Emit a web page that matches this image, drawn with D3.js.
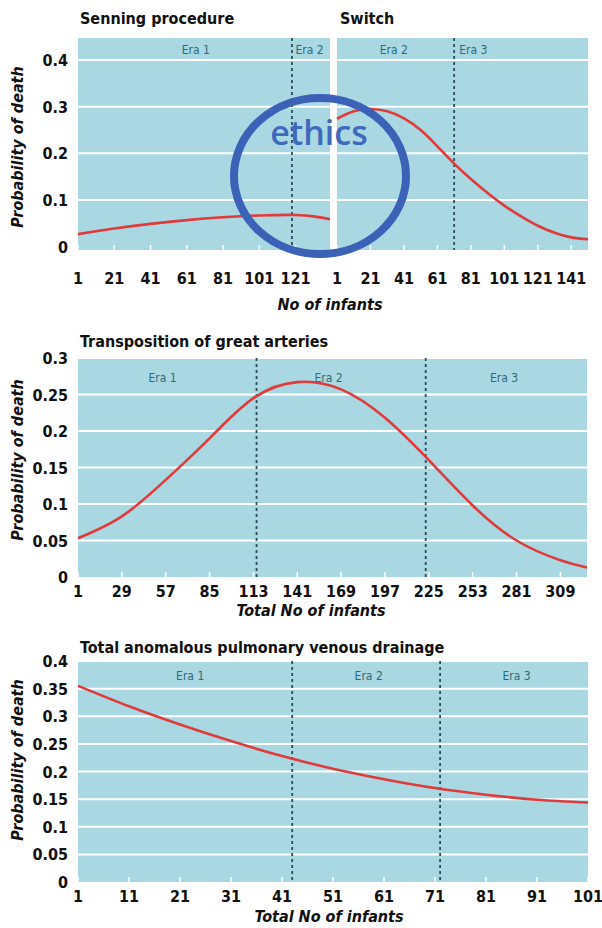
<!DOCTYPE html>
<html>
<head>
<meta charset="utf-8">
<script src="https://cdn.jsdelivr.net/npm/d3@7"></script>
<style>
  body { margin: 0; background: #fff; }
  svg text { font-family: "Liberation Sans Narrow", "DejaVu Sans Condensed", "Liberation Sans", sans-serif; }
</style>
</head>
<body>
<script>
// ---- data ----
const senningX = [1, 21, 41, 61, 81, 101, 121, 131, 140];
const senningP = [0.027, 0.039, 0.049, 0.057, 0.063, 0.067, 0.068, 0.065, 0.059];
const senningTicks = [1, 21, 41, 61, 81, 101, 121];
const senningEras = [119];
const senningEraLabels = ["Era 1", "Era 2"];

const switchX = [1, 11, 21, 31, 41, 51, 61, 71, 81, 91, 101, 111, 121, 131, 141, 151];
const switchP = [0.274, 0.29, 0.295, 0.29, 0.275, 0.25, 0.215, 0.178, 0.145, 0.115, 0.088, 0.065, 0.045, 0.03, 0.02, 0.016];
const switchTicks = [1, 21, 41, 61, 81, 101, 121, 141];
const switchEras = [71];
const switchEraLabels = ["Era 2", "Era 3"];

const tgaX = [1, 29, 57, 85, 113, 141, 169, 197, 225, 253, 281, 309, 326];
const tgaP = [0.053, 0.083, 0.133, 0.19, 0.245, 0.267, 0.257, 0.218, 0.16, 0.098, 0.05, 0.023, 0.013];
const tgaTicks = [1, 29, 57, 85, 113, 141, 169, 197, 225, 253, 281, 309];
const tgaEras = [115, 223];
const tgaEraLabels = ["Era 1", "Era 2", "Era 3"];
const tgaYTicks = [0, 0.05, 0.1, 0.15, 0.2, 0.25, 0.3];

const tapvdX = [1, 11, 21, 31, 41, 51, 61, 71, 81, 91, 101];
const tapvdP = [0.355, 0.318, 0.285, 0.255, 0.228, 0.205, 0.186, 0.17, 0.158, 0.149, 0.144];
const tapvdTicks = [1, 11, 21, 31, 41, 51, 61, 71, 81, 91, 101];
const tapvdEras = [43, 72];
const tapvdEraLabels = ["Era 1", "Era 2", "Era 3"];
const tapvdYTicks = [0, 0.05, 0.1, 0.15, 0.2, 0.25, 0.3, 0.35, 0.4];

const topYTicks = [0, 0.1, 0.2, 0.3, 0.4];

const bg = "#a9d8e2";
const red = "#e03a3a";
const dark = "#2c4d5a";

const svg = d3.select("body").append("svg")
    .attr("width", 602)
    .attr("height", 928);

// draw one plot area (background, grid, eras, curve, x ticks)
function drawPlot(o) {
    const x = d3.scaleLinear().domain(o.xDomain).range([o.left, o.right]);
    const y = o.y;
    const g = svg.append("g");

    g.append("rect")
        .attr("x", o.left).attr("y", o.top)
        .attr("width", o.right - o.left).attr("height", o.bottom - o.top)
        .attr("fill", bg);

    // white gridlines
    g.selectAll("line.grid")
        .data(o.yTicks.filter(d => d > 0))
        .enter().append("line")
        .attr("class", "grid")
        .attr("x1", o.left).attr("x2", o.right)
        .attr("y1", d => y(d)).attr("y2", d => y(d))
        .attr("stroke", "#fff").attr("stroke-width", 2);

    // little white ticks at the bottom
    g.selectAll("line.tk")
        .data(o.xTicks)
        .enter().append("line")
        .attr("class", "tk")
        .attr("x1", d => x(d)).attr("x2", d => x(d))
        .attr("y1", o.bottom).attr("y2", o.bottom - 5)
        .attr("stroke", "#fff").attr("stroke-width", 1.5);

    // era dividers
    g.selectAll("line.era")
        .data(o.eras)
        .enter().append("line")
        .attr("class", "era")
        .attr("x1", d => x(d)).attr("x2", d => x(d))
        .attr("y1", o.top).attr("y2", o.bottom)
        .attr("stroke", dark).attr("stroke-width", 1.8)
        .attr("stroke-dasharray", "3,3");

    // era labels
    g.selectAll("text.eraLbl")
        .data(o.eraLabels)
        .enter().append("text")
        .attr("class", "eraLbl")
        .attr("x", (d, i) => x(o.eraPos[i]))
        .attr("y", o.eraY)
        .attr("text-anchor", (d, i) => o.eraAnchor ? o.eraAnchor[i] : "middle")
        .attr("font-size", 12)
        .attr("fill", "#2d6b79")
        .text(d => d);

    // the curve
    const line = d3.line()
        .x(d => x(d[0]))
        .y(d => y(d[1]))
        .curve(d3.curveNatural);
    g.append("path")
        .datum(d3.zip(o.xs, o.ps))
        .attr("d", line)
        .attr("fill", "none")
        .attr("stroke", red)
        .attr("stroke-width", 2.6);

    // x tick labels
    g.selectAll("text.xl")
        .data(o.xTicks)
        .enter().append("text")
        .attr("class", "xl")
        .attr("x", d => x(d))
        .attr("y", o.xLabelY)
        .attr("text-anchor", "middle")
        .attr("font-size", 16)
        .attr("font-weight", "bold")
        .attr("fill", "#111")
        .text(d => d);
}

function drawYAxis(y, ticks, fmt, centre) {
    svg.append("g").selectAll("text")
        .data(ticks)
        .enter().append("text")
        .attr("x", 68)
        .attr("y", d => y(d) + 6)
        .attr("text-anchor", "end")
        .attr("font-size", 16)
        .attr("font-weight", "bold")
        .attr("fill", "#111")
        .text(d => fmt(d));

    svg.append("text")
        .attr("transform", "translate(23," + centre + ") rotate(-90)")
        .attr("text-anchor", "middle")
        .attr("font-size", 16)
        .attr("font-weight", "bold")
        .attr("font-style", "italic")
        .attr("fill", "#111")
        .text("Probability of death");
}

function title(txt, x, y) {
    svg.append("text")
        .attr("x", x).attr("y", y)
        .attr("font-size", 16)
        .attr("font-weight", "bold")
        .attr("fill", "#111")
        .text(txt);
}

function xTitle(txt, x, y) {
    svg.append("text")
        .attr("x", x).attr("y", y)
        .attr("text-anchor", "middle")
        .attr("font-size", 16)
        .attr("font-weight", "bold")
        .attr("font-style", "italic")
        .attr("fill", "#111")
        .text(txt);
}

const fmt = d => d === 0 ? "0" : String(d);

// ---- top panel ----
const yTop = d3.scaleLinear().domain([-0.007, 0.447]).range([250, 38]);
drawPlot({
    xDomain: [1, 140], left: 78, right: 330, top: 38, bottom: 250, y: yTop,
    yTicks: topYTicks, xTicks: senningTicks, eras: senningEras,
    eraLabels: senningEraLabels, eraPos: [66, 121], eraAnchor: ["middle", "start"], eraY: 54,
    xs: senningX, ps: senningP, xLabelY: 284
});
drawPlot({
    xDomain: [1, 151], left: 337, right: 588, top: 38, bottom: 250, y: yTop,
    yTicks: topYTicks, xTicks: switchTicks, eras: switchEras,
    eraLabels: switchEraLabels, eraPos: [35, 74], eraAnchor: ["middle", "start"], eraY: 54,
    xs: switchX, ps: switchP, xLabelY: 284
});
drawYAxis(yTop, topYTicks, fmt, 147);
title("Senning procedure", 80, 24);
title("Switch", 340, 24);
xTitle("No of infants", 330, 310);

// ---- middle panel ----
const yMid = d3.scaleLinear().domain([0, 0.3]).range([577, 358]);
drawPlot({
    xDomain: [1, 326], left: 78, right: 587, top: 358, bottom: 577, y: yMid,
    yTicks: tgaYTicks, xTicks: tgaTicks, eras: tgaEras,
    eraLabels: tgaEraLabels, eraPos: [55, 161, 273], eraY: 382,
    xs: tgaX, ps: tgaP, xLabelY: 597
});
drawYAxis(yMid, tgaYTicks, fmt, 460);
title("Transposition of great arteries", 80, 347);
xTitle("Total No of infants", 311, 616);

// ---- bottom panel ----
const yBot = d3.scaleLinear().domain([0, 0.4]).range([882, 661]);
drawPlot({
    xDomain: [1, 101], left: 78, right: 588, top: 661, bottom: 882, y: yBot,
    yTicks: tapvdYTicks, xTicks: tapvdTicks, eras: tapvdEras,
    eraLabels: tapvdEraLabels, eraPos: [23, 58, 87], eraY: 680,
    xs: tapvdX, ps: tapvdP, xLabelY: 902
});
drawYAxis(yBot, tapvdYTicks, fmt, 760);
title("Total anomalous pulmonary venous drainage", 80, 653);
xTitle("Total No of infants", 329, 922);

// ---- hand drawn "ethics" annotation ----
svg.append("ellipse")
    .attr("cx", 320).attr("cy", 176)
    .attr("rx", 86).attr("ry", 78)
    .attr("fill", "none")
    .attr("stroke", "#3b62b6")
    .attr("stroke-width", 8);
svg.append("text")
    .attr("x", 319).attr("y", 145)
    .attr("text-anchor", "middle")
    .attr("font-size", 34)
    .attr("font-weight", 600)
    .attr("fill", "#4068bd")
    .style("font-family", "'Open Sans', Lato, sans-serif")
    .text("ethics");
</script>
</body>
</html>
